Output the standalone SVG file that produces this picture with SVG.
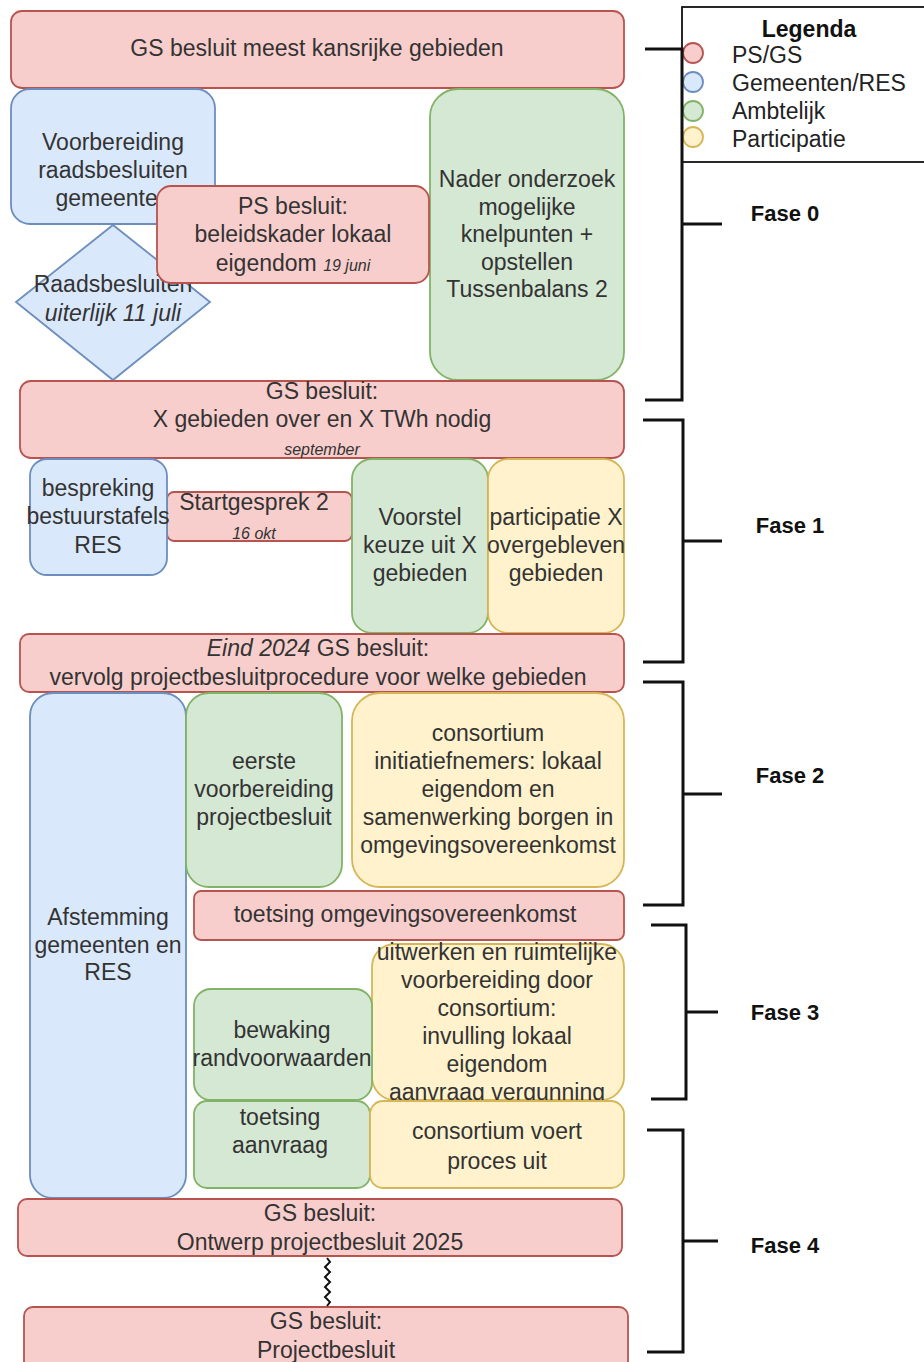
<svg xmlns="http://www.w3.org/2000/svg" width="924" height="1362" viewBox="0 0 924 1362">
<style>
text{font-family:"Liberation Sans",Arial,Helvetica,sans-serif;font-size:23px;fill:#333;text-anchor:middle}
.r{fill:#f8cecc;stroke:#b85450;stroke-width:1.8}
.b{fill:#dae8fc;stroke:#6c8ebf;stroke-width:1.8}
.g{fill:#d5e8d4;stroke:#82b366;stroke-width:1.8}
.y{fill:#fff2cc;stroke:#d6b656;stroke-width:1.8}
.it{font-style:italic}
.sm{font-style:italic;font-size:16px}
.brk{fill:none;stroke:#111;stroke-width:3}
.lbl{font-weight:bold;font-size:22px;fill:#111}
.leg{text-anchor:start;fill:#222}
</style>
<rect width="924" height="1362" fill="#fff"/>

<g id="n-top"><rect class="r" x="11" y="11" width="613" height="77" rx="11"/><text x="317" y="56">GS besluit meest kansrijke gebieden</text></g>

<g id="n-voorbereiding"><rect class="b" x="11" y="89" width="204" height="135" rx="19"/>
<text x="113" y="150">Voorbereiding</text><text x="113" y="178">raadsbesluiten</text><text x="113" y="206">gemeenten</text></g>

<g id="n-raadsbesluiten"><polygon class="b" points="113,225 210,302 113,380 16,302"/>
<text x="113" y="292">Raadsbesluiten</text><text x="113" y="321" class="it">uiterlijk 11 juli</text></g>

<g id="n-nader"><rect class="g" x="430" y="89" width="194" height="291" rx="28"/>
<text x="527" y="187">Nader onderzoek</text><text x="527" y="214.6">mogelijke</text><text x="527" y="242.2">knelpunten +</text><text x="527" y="269.8">opstellen</text><text x="527" y="297.4">Tussenbalans 2</text></g>

<g id="n-ps"><rect class="r" x="157" y="186" width="272" height="97" rx="14"/>
<text x="293" y="214">PS besluit:</text><text x="293" y="242">beleidskader lokaal</text><text x="293" y="271">eigendom <tspan class="sm">19 juni</tspan></text></g>

<g id="n-gsx"><rect class="r" x="20" y="381" width="604" height="77" rx="11"/>
<text x="322" y="399">GS besluit:</text><text x="322" y="427">X gebieden over en X TWh nodig</text><text x="322" y="455" class="sm">september</text></g>

<g id="n-startgesprek"><rect class="r" x="167" y="492" width="185" height="49" rx="7"/>
<text x="254" y="510">Startgesprek 2</text><text x="254" y="539" class="sm">16 okt</text></g>

<g id="n-bespreking"><rect class="b" x="30" y="459" width="137" height="116" rx="17"/>
<text x="98" y="496">bespreking</text><text x="98" y="524">bestuurstafels</text><text x="98" y="553">RES</text></g>

<g id="n-voorstel"><rect class="g" x="352" y="459" width="136" height="174" rx="20"/>
<text x="420" y="525">Voorstel</text><text x="420" y="553">keuze uit X</text><text x="420" y="581">gebieden</text></g>

<g id="n-participatie"><rect class="y" x="488" y="459" width="136" height="174" rx="20"/>
<text x="556" y="525">participatie X</text><text x="556" y="553">overgebleven</text><text x="556" y="581">gebieden</text></g>

<g id="n-eind"><rect class="r" x="20" y="634" width="604" height="58" rx="9"/>
<text x="318" y="656"><tspan class="it">Eind 2024</tspan> GS besluit:</text><text x="318" y="685">vervolg projectbesluitprocedure voor welke gebieden</text></g>

<g id="n-afstemming"><rect class="b" x="30" y="693" width="156" height="505" rx="23"/>
<text x="108" y="925">Afstemming</text><text x="108" y="953">gemeenten en</text><text x="108" y="980">RES</text></g>

<g id="n-eerste"><rect class="g" x="186" y="693" width="156" height="194" rx="23"/>
<text x="264" y="769">eerste</text><text x="264" y="797">voorbereiding</text><text x="264" y="825">projectbesluit</text></g>

<g id="n-consortium"><rect class="y" x="352" y="693" width="272" height="194" rx="28"/>
<text x="488" y="741">consortium</text><text x="488" y="769">initiatiefnemers: lokaal</text><text x="488" y="797">eigendom en</text><text x="488" y="825">samenwerking borgen in</text><text x="488" y="853">omgevingsovereenkomst</text></g>

<g id="n-toetsing-oo"><rect class="r" x="194" y="891" width="430" height="49" rx="7"/>
<text x="405" y="922">toetsing omgevingsovereenkomst</text></g>

<g id="n-uitwerken"><rect class="y" x="372" y="944" width="252" height="156" rx="23"/>
<text x="497" y="960">uitwerken en ruimtelijke</text><text x="497" y="988">voorbereiding door</text><text x="497" y="1016">consortium:</text><text x="497" y="1044">invulling lokaal</text><text x="497" y="1072">eigendom</text><text x="497" y="1100">aanvraag vergunning</text></g>

<g id="n-bewaking"><rect class="g" x="194" y="989" width="178" height="111" rx="17"/>
<text x="282" y="1038">bewaking</text><text x="282" y="1066">randvoorwaarden</text></g>

<g id="n-toetsing-aanvraag"><rect class="g" x="194" y="1101" width="176" height="87" rx="13"/>
<text x="280" y="1125">toetsing</text><text x="280" y="1153">aanvraag</text></g>

<g id="n-consortium-voert"><rect class="y" x="370" y="1101" width="254" height="87" rx="13"/>
<text x="497" y="1139">consortium voert</text><text x="497" y="1169">proces uit</text></g>

<g id="n-ontwerp"><rect class="r" x="18" y="1199" width="604" height="57" rx="9"/>
<text x="320" y="1221">GS besluit:</text><text x="320" y="1250">Ontwerp projectbesluit 2025</text></g>

<g id="n-projectbesluit"><rect class="r" x="24" y="1307" width="604" height="66" rx="9"/>
<text x="326" y="1329">GS besluit:</text><text x="326" y="1358">Projectbesluit</text></g>

<g id="connectors">
<path d="M327,1258 l3,4 l-5,5 l5,5 l-5,5 l5,5 l-5,5 l5,5 l-5,5 l5,5 l-3,4" fill="none" stroke="#111" stroke-width="2"/>
</g>

<g id="legend">
<rect x="682" y="7" width="260" height="155" fill="#fff" stroke="#111" stroke-width="1.8"/>
<text x="809" y="37" style="font-weight:bold;fill:#111">Legenda</text>
<circle cx="693" cy="53" r="10" class="r"/>
<circle cx="693" cy="82" r="10" class="b"/>
<circle cx="693" cy="111" r="10" class="g"/>
<circle cx="693" cy="137" r="10" class="y"/>
<text x="732" y="63" class="leg">PS/GS</text>
<text x="732" y="91" class="leg">Gemeenten/RES</text>
<text x="732" y="119" class="leg">Ambtelijk</text>
<text x="732" y="147" class="leg">Participatie</text>
</g>

<g id="fase-0"><path class="brk" d="M645,49 H682 V400 H645 M682,224 H722"/><text class="lbl" x="785" y="221">Fase 0</text></g>
<g id="fase-1"><path class="brk" d="M643,420 H683 V662 H643 M683,541 H722"/><text class="lbl" x="790" y="533">Fase 1</text></g>
<g id="fase-2"><path class="brk" d="M643,682 H683 V905 H643 M683,794 H722"/><text class="lbl" x="790" y="783">Fase 2</text></g>
<g id="fase-3"><path class="brk" d="M651,925 H686 V1099 H651 M686,1012 H718"/><text class="lbl" x="785" y="1020">Fase 3</text></g>
<g id="fase-4"><path class="brk" d="M647,1130 H683 V1352 H647 M683,1241 H718"/><text class="lbl" x="785" y="1253">Fase 4</text></g>
</svg>
